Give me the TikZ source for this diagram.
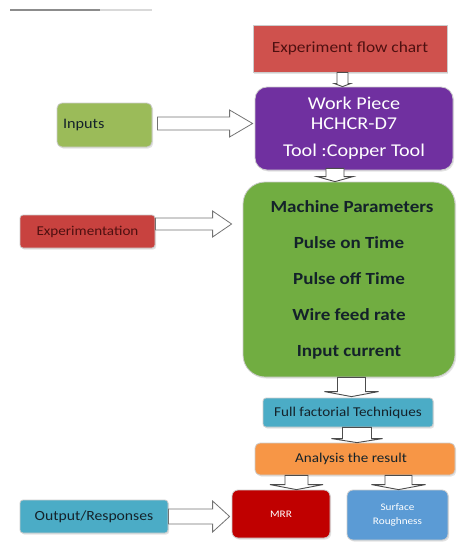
\documentclass[tikz,border=0pt]{standalone}
\usepackage{fontspec}
\setmainfont{Carlito}[FakeStretch=1.12]
\usetikzlibrary{calc,shadows}
\definecolor{flowred}{HTML}{CF514D}
\definecolor{exred}{HTML}{C8423F}
\definecolor{darkred}{HTML}{4E1010}
\definecolor{wpurple}{HTML}{7030A0}
\definecolor{lgreen}{HTML}{9BBB59}
\definecolor{bgreen}{HTML}{71AD41}
\definecolor{lblue}{HTML}{4BACC6}
\definecolor{orng}{HTML}{F79646}
\definecolor{mrrred}{HTML}{C00000}
\definecolor{sblue}{HTML}{5B9BD5}
\definecolor{dtext}{HTML}{14222A}
\newcommand\HArr[6]{\draw[#6] let \p1=(#1), \p2=(#2) in
  (\x1,\y1+#3) -- (\x2-#5,\y1+#3) -- (\x2-#5,\y1+#4) -- (\x2,\y1) --
  (\x2-#5,\y1-#4) -- (\x2-#5,\y1-#3) -- (\x1,\y1-#3) -- cycle;}
\newcommand\VArr[6]{\draw[#6] let \p1=(#1), \p2=(#2) in
  (\x2-#3,\y1) -- (\x2-#3,\y2+#5) -- (\x2-#4,\y2+#5) -- (\x2,\y2) --
  (\x2+#4,\y2+#5) -- (\x2+#3,\y2+#5) -- (\x2+#3,\y1) -- cycle;}
\tikzset{
  box/.style={rectangle, inner sep=2pt, align=center, draw=white!80!black, line width=0.8pt,
    drop shadow={shadow xshift=1.2pt, shadow yshift=-1.5pt, fill=black!22}},
  barrow/.style={fill=white, draw=black!55, line width=0.8pt, line join=miter},
  vbarrow/.style={fill=white, draw=black!70, line width=0.9pt, line join=miter}
}
\begin{document}
\begin{tikzpicture}[x=1pt,y=-1pt]
\useasboundingbox (0,0) rectangle (457,544);
% faint line at the top
\draw[black!45, line width=1.4pt] (10,10) -- (100,10);
\draw[black!15, line width=1.4pt] (100,10) -- (152,10);

\node[box, fill=flowred, minimum width=194pt, minimum height=47pt,
  font=\fontsize{15.5}{17}\selectfont, text=darkred] (flow) at (350,48.5) {Experiment flow chart};
\node[box, fill=wpurple, rounded corners=12pt, minimum width=198pt, minimum height=83pt,
  font=\fontsize{18}{20}\selectfont, text=white] (work) at (354,128.5)
  {Work Piece\\HCHCR-D7\\[7pt]Tool :Copper Tool};
\node[box, fill=lgreen, rounded corners=5pt, minimum width=95pt, minimum height=44pt,
  text width=83pt, align=left, font=\fontsize{14.5}{16}\selectfont, text=dtext] (inputs) at (104.5,125) {Inputs};
\node[box, fill=exred, rounded corners=3pt, minimum width=135pt, minimum height=33pt,
  font=\fontsize{13.5}{16}\selectfont, text=darkred] (exp) at (87.5,231.5) {Experimentation};
\node[box, fill=bgreen, rounded corners=22pt, minimum width=212pt, minimum height=195pt,
  font=\fontsize{17}{36}\bfseries\selectfont, text=dtext] (green) at (349,279.5)
  {\hspace*{6pt}Machine Parameters\\Pulse on Time\\Pulse off Time\\Wire feed rate\\Input current};
\node[box, fill=lblue, rounded corners=3pt, minimum width=170pt, minimum height=29pt,
  font=\fontsize{13.5}{15}\selectfont, text=dtext] (full) at (348,412.5) {Full factorial Techniques};
\node[box, fill=orng, rounded corners=5pt, minimum width=200pt, minimum height=32pt,
  font=\fontsize{13.5}{15}\selectfont, text=dtext] (analysis) at (355,459) {\hspace*{-8pt}Analysis the result};
\node[box, fill=mrrred, rounded corners=6pt, minimum width=98pt, minimum height=48pt,
  font=\fontsize{10}{12}\selectfont, text=white] (mrr) at (281,514) {MRR};
\node[box, fill=sblue, rounded corners=6pt, minimum width=101pt, minimum height=50pt,
  font=\fontsize{10}{14}\selectfont, text=white] (surf) at (397.5,515) {Surface\\Roughness};
\node[box, fill=lblue, rounded corners=3pt, minimum width=148pt, minimum height=33pt,
  font=\fontsize{14}{16}\selectfont, text=dtext] (output) at (94,516.5) {Output/Responses};

% horizontal block arrows
\HArr{[xshift=5pt,yshift=1.5pt]inputs.east}{[xshift=-2pt]work.west}{6.5pt}{13.5pt}{23pt}{barrow}
\HArr{[yshift=7.5pt]exp.east}{[xshift=-11pt]green.west}{6pt}{13pt}{19pt}{barrow}
\HArr{output.east}{[xshift=-2pt]mrr.west}{7.5pt}{15.5pt}{17pt}{barrow}
% vertical block arrows
\VArr{flow.south}{[xshift=-11.5pt]work.north}{5.5pt}{8pt}{3pt}{vbarrow}
\VArr{[yshift=2pt]work.south}{[xshift=-14pt]green.north}{9pt}{18pt}{5pt}{vbarrow}
\VArr{green.south}{[xshift=3.5pt,yshift=1pt]full.north}{14pt}{27pt}{5pt}{vbarrow}
\VArr{full.south}{[xshift=2pt]analysis.north}{14.5pt}{25.5pt}{4pt}{vbarrow}
\VArr{analysis.south}{[xshift=15.5pt]mrr.north}{11.5pt}{26.5pt}{5pt}{vbarrow}
\VArr{analysis.south}{[xshift=1pt]surf.north}{13.5pt}{27pt}{5pt}{vbarrow}
\end{tikzpicture}
\end{document}
